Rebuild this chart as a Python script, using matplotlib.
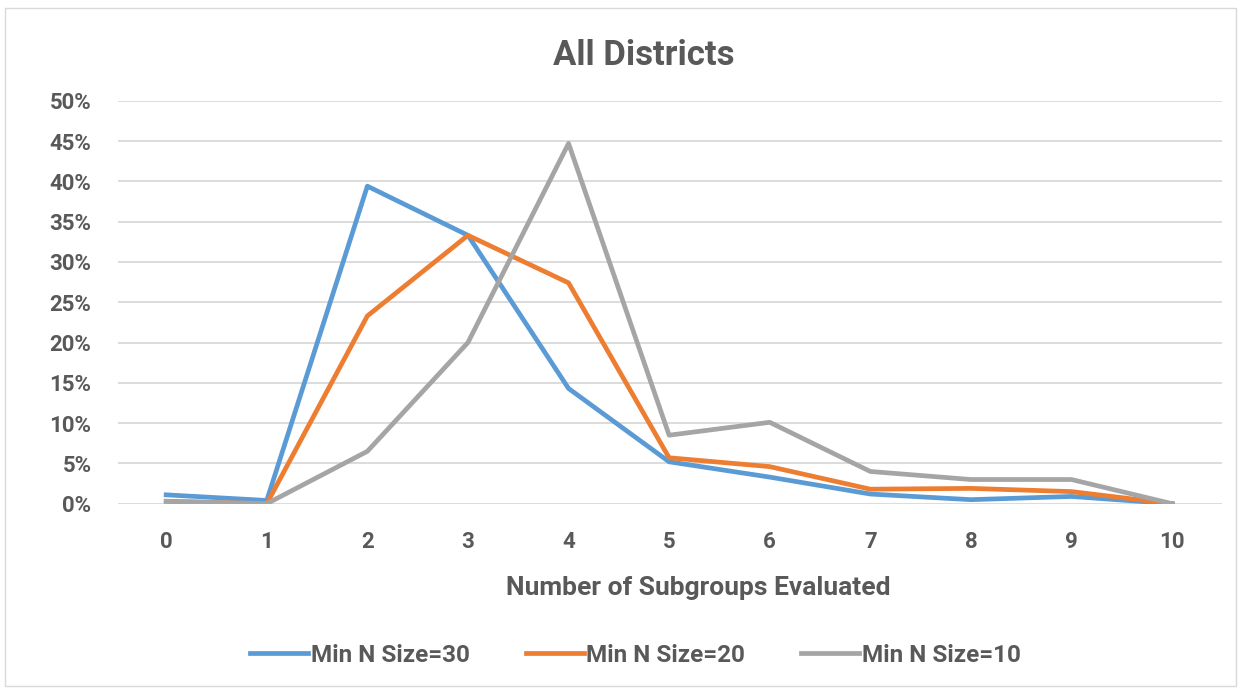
import matplotlib
matplotlib.use("Agg")
from matplotlib import pyplot as plt
from matplotlib.patches import Rectangle
from matplotlib.ticker import FuncFormatter

subgroups = [0, 1, 2, 3, 4, 5, 6, 7, 8, 9, 10]
n30 = [1.1, 0.4, 39.4, 33.3, 14.3, 5.2, 3.3, 1.2, 0.5, 0.9, 0.0]
n20 = [0.3, 0.0, 23.3, 33.3, 27.4, 5.7, 4.6, 1.8, 1.9, 1.5, 0.0]
n10 = [0.3, 0.0, 6.5, 20.0, 44.7, 8.5, 10.1, 4.0, 3.0, 3.0, 0.0]
labels = ['Min N Size=30', 'Min N Size=20', 'Min N Size=10']

plt.rcParams['font.family'] = ['Roboto', 'DejaVu Sans']
txt = '#595959'

fig = plt.figure(figsize=(12.41, 6.9), dpi=100)
ax = fig.add_axes([0.095, 0.270, 0.89, 0.584])

ax.plot(subgroups, n30, color='#5B9BD5', linewidth=3.4, label=labels[0])
ax.plot(subgroups, n20, color='#ED7D31', linewidth=3.4, label=labels[1])
ax.plot(subgroups, n10, color='#A5A5A5', linewidth=3.4, label=labels[2])

ax.set_xlim(-0.48, 10.5)
ax.set_ylim(0, 50)
ax.set_yticks(range(0, 51, 5))
ax.yaxis.set_major_formatter(FuncFormatter(lambda v, p: '%d%%' % v))
ax.set_xticks(subgroups)
ax.grid(True, axis='y', color='#D9D9D9', linewidth=1.3)
ax.set_axisbelow(True)
for s in ax.spines.values():
	s.set_visible(False)
ax.tick_params(length=0, labelsize=16, labelcolor=txt)
ax.tick_params(axis='y', pad=19)
ax.tick_params(axis='x', pad=20)
for t in ax.get_xticklabels() + ax.get_yticklabels():
	t.set_fontweight('bold')

ax.set_xlabel('Number of Subgroups Evaluated', fontsize=19, fontweight='bold', color=txt, labelpad=16)
ax.xaxis.label.set_x(0.525)
fig.text(0.519, 0.92, 'All Districts', ha='center', va='center', fontsize=25, fontweight='bold', color=txt)

leg = fig.legend(loc='center', bbox_to_anchor=(0.512, 0.05), ncol=3, frameon=False,
	fontsize=17.5, handlelength=2.4, handletextpad=0.1, columnspacing=2.3)
for t in leg.get_texts():
	t.set_color(txt)
	t.set_fontweight('bold')

fig.patches.append(Rectangle((0.004, 0.006), 0.992, 0.982, transform=fig.transFigure,
	fill=False, edgecolor='#D9D9D9', linewidth=1))

fig.savefig('out.png', dpi=100)
